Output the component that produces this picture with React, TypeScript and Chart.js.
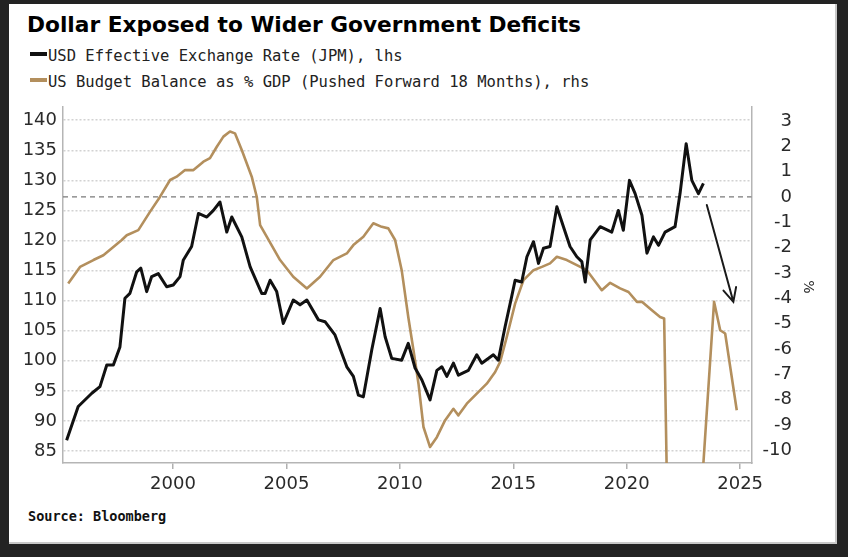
import React, { useEffect, useRef } from "react";
import { Chart, registerables } from "chart.js";
Chart.register(...registerables);

// ---- data ----
const usdYears = [1995.31,1995.82,1996.42,1996.78,1997.08,1997.37,1997.66,1997.88,1998.10,1998.40,1998.58,1998.84,1999.06,1999.35,1999.72,2000.01,2000.31,2000.45,2000.82,2001.12,2001.49,2001.78,2002.07,2002.37,2002.59,2003.03,2003.40,2003.91,2004.06,2004.28,2004.57,2004.86,2005.30,2005.60,2005.90,2006.41,2006.70,2007.14,2007.66,2007.95,2008.17,2008.39,2008.76,2009.13,2009.35,2009.64,2010.08,2010.37,2010.67,2010.97,2011.33,2011.63,2011.85,2012.07,2012.36,2012.58,2013.02,2013.39,2013.61,2014.12,2014.34,2014.64,2014.93,2015.08,2015.37,2015.60,2015.89,2016.11,2016.33,2016.62,2016.92,2017.21,2017.50,2017.80,2018.02,2018.17,2018.39,2018.83,2019.34,2019.63,2019.85,2020.12,2020.37,2020.67,2020.89,2021.18,2021.40,2021.69,2022.13,2022.35,2022.62,2022.87,2023.16,2023.38];
const usdValues = [86.8,92.4,94.6,95.7,99.3,99.3,102.3,110.4,111.2,114.8,115.4,111.5,114.0,114.5,112.3,112.6,114.0,116.7,119.0,124.5,123.9,125.0,126.4,121.4,123.9,120.6,115.6,111.2,111.2,113.4,111.5,106.2,110.1,109.3,110.1,106.8,106.5,104.3,99.0,97.4,94.3,94.0,101.8,108.7,104.0,100.4,100.1,102.9,98.8,96.8,93.5,98.4,99.0,97.4,99.6,97.6,98.4,101.0,99.6,101.0,100.1,105.7,110.7,113.4,113.1,117.3,119.8,116.2,118.7,119.0,125.6,122.3,119.0,117.3,116.5,113.1,120.1,122.3,121.4,125.0,121.7,130.0,127.8,124.2,117.9,120.6,119.2,121.4,122.3,127.8,136.1,130.0,127.8,129.5];

const budgetYears = [1995.38,1995.90,1996.49,1996.93,1997.74,1997.96,1998.47,1998.99,1999.43,1999.87,2000.16,2000.53,2000.90,2001.34,2001.63,2001.93,2002.22,2002.51,2002.73,2003.03,2003.47,2003.69,2003.84,2004.13,2004.72,2005.30,2005.90,2006.48,2007.07,2007.66,2007.95,2008.39,2008.83,2009.20,2009.49,2009.79,2010.08,2010.37,2010.60,2010.82,2011.04,2011.33,2011.63,2011.99,2012.36,2012.58,2012.95,2013.39,2013.83,2014.20,2014.42,2014.71,2015.08,2015.45,2015.89,2016.26,2016.62,2016.92,2017.36,2017.80,2018.24,2018.90,2019.27,2019.71,2020.08,2020.45,2020.67,2021.11,2021.47,2021.65,2021.85,2022.50,2023.24,2023.85,2024.12,2024.34,2024.85];
const budgetValues = [-3.42,-2.76,-2.49,-2.30,-1.70,-1.51,-1.31,-0.58,0.01,0.67,0.80,1.06,1.06,1.39,1.53,1.98,2.38,2.58,2.51,1.85,0.80,0.01,-1.11,-1.57,-2.49,-3.15,-3.61,-3.15,-2.49,-2.23,-1.90,-1.57,-1.04,-1.18,-1.24,-1.70,-2.89,-4.74,-6.05,-7.37,-9.08,-9.87,-9.48,-8.82,-8.36,-8.62,-8.16,-7.76,-7.37,-6.91,-6.51,-5.53,-4.21,-3.28,-2.89,-2.76,-2.62,-2.36,-2.49,-2.69,-2.89,-3.68,-3.39,-3.61,-3.75,-4.14,-4.14,-4.47,-4.74,-4.80,-15.5,-16.5,-12.4,-4.14,-5.26,-5.39,-8.42];

const yearTicks = [2000, 2005, 2010, 2015, 2020, 2025];
const leftTicks = [85, 90, 95, 100, 105, 110, 115, 120, 125, 130, 135, 140];
const rightTicks = [-10, -9, -8, -7, -6, -5, -4, -3, -2, -1, 0, 1, 2, 3];
const rhsReference = 0;
const rhsUnit = "%";
const arrowFrom = { x: 2023.53, y: 125.9 };
const arrowTo = { x: 2024.70, y: 109.8 };

const TITLE = "Dollar Exposed to Wider Government Deficits";
const LEGEND_USD = "USD Effective Exchange Rate (JPM), lhs";
const LEGEND_BUDGET = "US Budget Balance as % GDP (Pushed Forward 18 Months), rhs";
const SOURCE = "Source: Bloomberg";

const GOLD = "#b38f5d";
const BLACK = "#111111";

const overlayPlugin = {
  id: "overlay",
  beforeDatasetsDraw(chart: any) {
    const { ctx, chartArea, scales } = chart;
    const y = scales.y1.getPixelForValue(rhsReference);
    ctx.save();
    ctx.strokeStyle = "#7a7a7a";
    ctx.lineWidth = 1.3;
    ctx.setLineDash([5, 4]);
    ctx.beginPath();
    ctx.moveTo(chartArea.left, y);
    ctx.lineTo(chartArea.right, y);
    ctx.stroke();
    ctx.restore();
  },
  afterDatasetsDraw(chart: any) {
    const { ctx, scales, chartArea } = chart;
    const x1 = scales.x.getPixelForValue(arrowFrom.x);
    const y1 = scales.y.getPixelForValue(arrowFrom.y);
    const x2 = scales.x.getPixelForValue(arrowTo.x);
    const y2 = scales.y.getPixelForValue(arrowTo.y);
    const ang = Math.atan2(y2 - y1, x2 - x1);
    const head = 15;
    const spread = 0.45;
    ctx.save();
    ctx.strokeStyle = "#1a1a1a";
    ctx.lineWidth = 2;
    ctx.lineCap = "round";
    ctx.beginPath();
    ctx.moveTo(x1, y1);
    ctx.lineTo(x2, y2);
    ctx.moveTo(x2 - head * Math.cos(ang - spread), y2 - head * Math.sin(ang - spread));
    ctx.lineTo(x2, y2);
    ctx.lineTo(x2 - head * Math.cos(ang + spread), y2 - head * Math.sin(ang + spread));
    ctx.stroke();
    ctx.restore();

    // rotated unit label of the right axis
    ctx.save();
    ctx.translate(scales.y1.right + 16, (chartArea.top + chartArea.bottom) / 2 + 2);
    ctx.rotate(Math.PI / 2);
    ctx.font = "14px 'DejaVu Sans'";
    ctx.fillStyle = "#2a2a2a";
    ctx.textAlign = "center";
    ctx.textBaseline = "middle";
    ctx.fillText(rhsUnit, 0, 0);
    ctx.restore();
  },
};

export default function App() {
  const ref = useRef<HTMLCanvasElement>(null);
  useEffect(() => {
    if (!ref.current) return;
    const tickFont = { family: "DejaVu Sans", size: 18 };
    const chart = new Chart(ref.current, {
      type: "line",
      data: {
        datasets: [
          {
            label: LEGEND_USD,
            data: usdYears.map((x, i) => ({ x, y: usdValues[i] })),
            yAxisID: "y",
            borderColor: BLACK,
            borderWidth: 3,
            pointRadius: 0,
            tension: 0,
            borderJoinStyle: "round",
          },
          {
            label: LEGEND_BUDGET,
            data: budgetYears.map((x, i) => ({ x, y: budgetValues[i] })),
            yAxisID: "y1",
            borderColor: GOLD,
            borderWidth: 2.6,
            pointRadius: 0,
            tension: 0,
            borderJoinStyle: "round",
          },
        ],
      },
      options: {
        responsive: false,
        animation: false,
        events: [],
        layout: { padding: { top: 107, left: 8, right: 56, bottom: 54 } },
        plugins: {
          legend: { display: false },
          tooltip: { enabled: false },
        },
        scales: {
          x: {
            type: "linear",
            min: 1995.15,
            max: 2025.5,
            afterBuildTicks: (s: any) => {
              s.ticks = yearTicks.map((v) => ({ value: v }));
            },
            afterFit: (s: any) => {
              s.height = 40;
            },
            grid: {
              display: true,
              drawOnChartArea: false,
              drawTicks: true,
              tickLength: 6,
              color: "#b0b0b0",
              lineWidth: 1.5,
            },
            border: { display: true, color: "#b5b5b5", width: 1.5 },
            ticks: {
              font: tickFont,
              color: "#2a2a2a",
              padding: 5,
              maxRotation: 0,
              autoSkip: false,
              callback: (v: any) => String(v),
            },
          },
          y: {
            type: "linear",
            position: "left",
            min: 83,
            max: 142.2,
            afterBuildTicks: (s: any) => {
              s.ticks = leftTicks.map((v) => ({ value: v }));
            },
            afterFit: (s: any) => {
              s.width = 55;
            },
            grid: {
              display: true,
              drawTicks: false,
              color: "#d2d2d2",
              lineWidth: 1.5,
            },
            border: { display: true, color: "#b5b5b5", width: 1.5, dash: [2, 2] },
            ticks: {
              font: tickFont,
              color: "#2a2a2a",
              padding: 6,
              callback: (v: any) => String(v),
            },
          },
          y1: {
            type: "linear",
            position: "right",
            min: -10.5,
            max: 3.55,
            afterBuildTicks: (s: any) => {
              s.ticks = rightTicks.map((v) => ({ value: v }));
            },
            afterFit: (s: any) => {
              s.width = 40.5;
            },
            grid: { display: false, drawTicks: false },
            border: { display: true, color: "#b5b5b5", width: 1.5 },
            ticks: {
              font: tickFont,
              color: "#2a2a2a",
              padding: 8,
              crossAlign: "far",
              callback: (v: any) => String(v),
            },
          },
        },
      },
      plugins: [overlayPlugin],
    } as any);
    return () => chart.destroy();
  }, []);

  const mono = "'DejaVu Sans Mono', monospace";
  return (
    <div
      style={{
        position: "fixed",
        left: 0,
        top: 0,
        width: 848,
        height: 557,
        background: "#232323",
        overflow: "hidden",
      }}
    >
      <div
        style={{
          position: "absolute",
          left: 9,
          top: 4,
          width: 828,
          height: 540,
          background: "#ffffff",
          boxShadow: "inset -2px -2px 0 #c8c8c8",
        }}
      />
      <div
        style={{
          position: "absolute",
          left: 27,
          top: 12,
          fontFamily: "'DejaVu Sans', sans-serif",
          fontWeight: "bold",
          fontSize: 21.7,
          lineHeight: "26px",
          color: "#000",
          whiteSpace: "nowrap",
        }}
      >
        {TITLE}
      </div>
      <div style={{ position: "absolute", left: 30, top: 52, width: 17, height: 4, background: BLACK }} />
      <div
        style={{
          position: "absolute",
          left: 48,
          top: 46.5,
          fontFamily: mono,
          fontSize: 15.5,
          lineHeight: "18px",
          color: "#222",
          whiteSpace: "nowrap",
        }}
      >
        {LEGEND_USD}
      </div>
      <div style={{ position: "absolute", left: 30, top: 78, width: 17, height: 4, background: GOLD }} />
      <div
        style={{
          position: "absolute",
          left: 48,
          top: 72.5,
          fontFamily: mono,
          fontSize: 15.5,
          lineHeight: "18px",
          color: "#222",
          whiteSpace: "nowrap",
        }}
      >
        {LEGEND_BUDGET}
      </div>
      <div
        style={{
          position: "absolute",
          left: 28,
          top: 508,
          fontFamily: mono,
          fontWeight: "bold",
          fontSize: 13.5,
          lineHeight: "16px",
          color: "#111",
          whiteSpace: "nowrap",
        }}
      >
        {SOURCE}
      </div>
      <canvas
        ref={ref}
        width={848}
        height={557}
        style={{ position: "absolute", left: 0, top: 0 }}
      />
    </div>
  );
}
